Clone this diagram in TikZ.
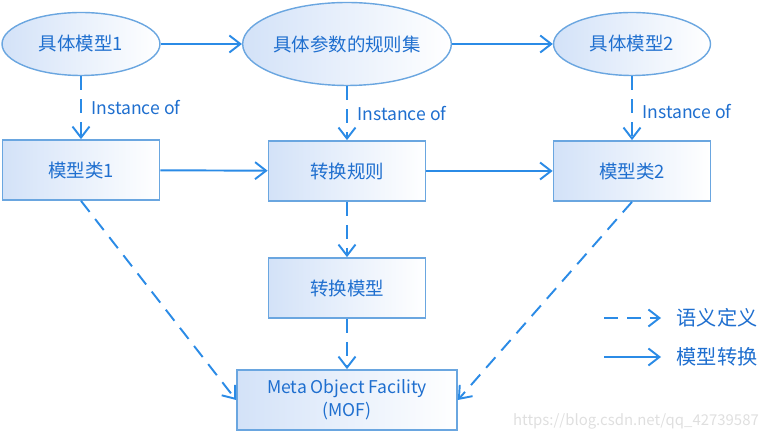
\documentclass[tikz,border=0pt]{standalone}
\usepackage{fontspec}
\setmainfont{Noto Sans CJK SC}
\usepackage{tikz}
\usetikzlibrary{shapes.geometric,arrows.meta}
\definecolor{lineblue}{HTML}{2B8BE6}
\definecolor{textblue}{HTML}{1F6FCF}
\definecolor{edgeblue}{HTML}{6AA6E0}
\definecolor{fillblue}{HTML}{D3E2F8}
\begin{document}
\begin{tikzpicture}[x=0.02cm,y=-0.02cm,
  font=\fontsize{10.5}{12}\selectfont,
  every node/.style={text=textblue},
  model/.style={ellipse,draw=edgeblue,line width=0.8pt,left color=fillblue,right color=white,inner sep=0pt},
  block/.style={rectangle,draw=edgeblue,line width=1pt,left color=fillblue,right color=white,minimum width=3.14cm,minimum height=1.2cm,inner sep=0pt,align=center},
  trans/.style={lineblue,line width=1.1pt,-{Straight Barb[length=2.2mm,width=3.4mm]}},
  sem/.style={trans,dash pattern=on 0.28cm off 0.18cm}]
\useasboundingbox (0,0) rectangle (767,438);
% top row
\foreach \x/\y/\w/\h/\nm/\txt in {81/44/3.16/1.26/m1/{具体模型1},347/44/4.02/1.66/rs/{具体参数的规则集},632/44/3.14/1.26/m2/{具体模型2}}{
 \node[model,minimum width=\w cm,minimum height=\h cm] (\nm) at (\x,\y) {\txt};
 }
% boxes
\foreach \x/\y/\nm/\txt in {81/170/c1/{模型类1},347/171/tr/{转换规则},632/171/c2/{模型类2},347/288/tm/{转换模型}}{
 \node[block] (\nm) at (\x,\y) {\txt};
 }
\node[block,minimum width=4.4cm,font=\fontsize{10}{13}\selectfont] (mof) at (347,400) {Meta Object Facility\\(MOF)};

\foreach \a/\b/\p in {m1/c1/0.5,rs/tr/0.5,m2/c2/0.56}{
 \draw[sem] (\a) -- node[pos=\p,right,xshift=2pt,font=\fontsize{10}{12}\selectfont] {Instance of} (\b);
 }
\foreach \a/\b in {m1/rs,rs/m2,c1/tr,tr/c2}{
 \draw[trans] (\a) -- (\b);
 }
\draw[sem] (tr) -- (tm);
\draw[sem] (tm) -- (mof);
\draw[sem] (c1.south) -- (mof.west);
\draw[sem] (c2.south) -- (mof.east);

% legend
\coordinate (sa) at (604,318);
\coordinate (sb) at (661,318);
\coordinate (ta) at (604,357);
\coordinate (tb) at (661,357);
\draw[sem] (sa) -- (sb) node[right,xshift=5pt,font=\fontsize{11.5}{13}\selectfont] (semtxt) {语义定义};
\draw[trans] (ta) -- (tb) node[right,xshift=5pt,font=\fontsize{11.5}{13}\selectfont] (transtxt) {模型转换};

\node[text=gray!25,font=\fontsize{8.5}{10}\selectfont] (mark) at (636,421) {https://blog.csdn.net/qq\_42739587};
\end{tikzpicture}
\end{document}
